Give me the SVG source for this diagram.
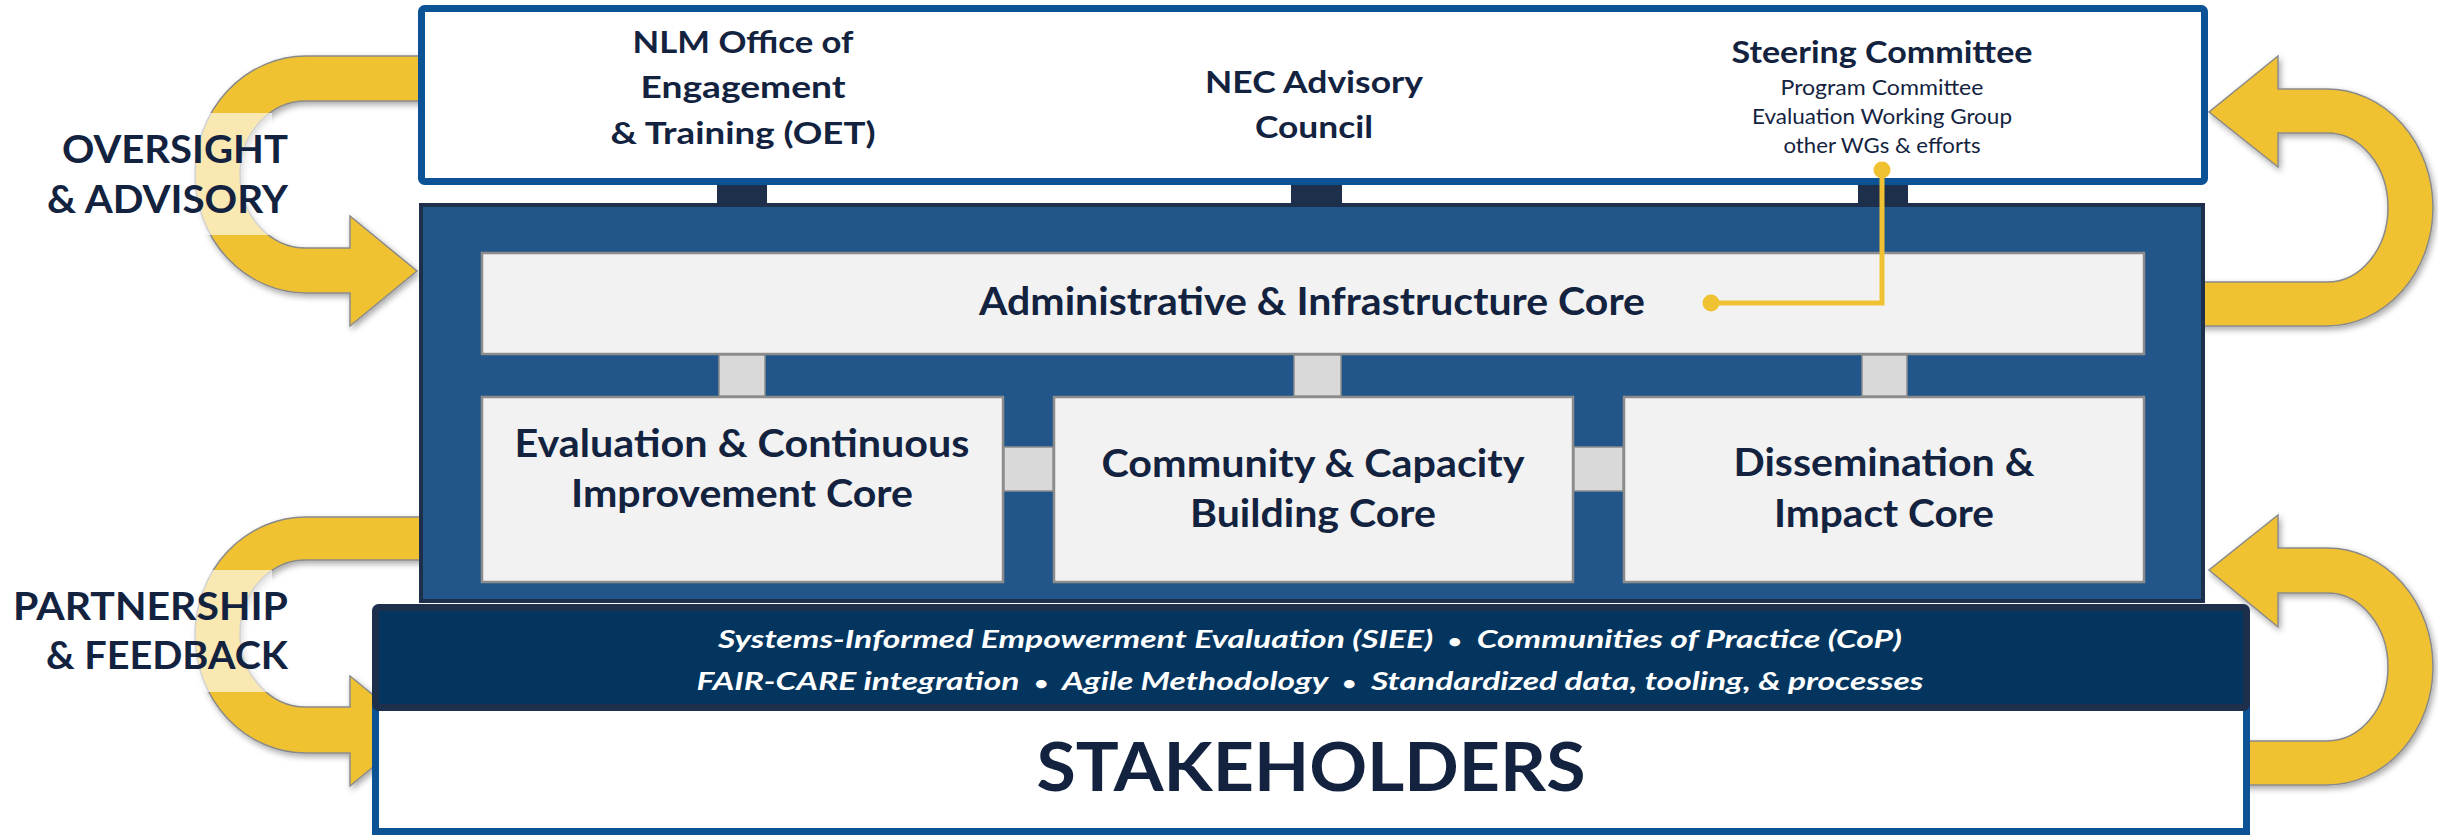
<svg xmlns="http://www.w3.org/2000/svg" width="2438" height="835" viewBox="0 0 2438 835">
<defs>
<filter id="sh" x="-20%" y="-20%" width="140%" height="140%">
<feDropShadow dx="2" dy="3" stdDeviation="3" flood-color="#000" flood-opacity="0.35"/>
</filter>
<style>
.arrow{fill:#f0c232;stroke:#8a8a8a;stroke-width:1.5;filter:url(#sh)}
.hl{fill:#fff;opacity:0.62}
.side{font-family:Lato,"Open Sans",sans-serif;font-weight:700;font-size:39px;fill:#13233f}
.top{font-family:Lato,"Open Sans",sans-serif;font-weight:700;font-size:31px;fill:#13233f;text-anchor:middle}
.topsm{font-family:Lato,"Open Sans",sans-serif;font-weight:400;font-size:22px;fill:#13233f;text-anchor:middle}
.core{fill:#f2f2f2;stroke:#8c8c8c;stroke-width:2.5}
.coret{font-family:Lato,"Open Sans",sans-serif;font-weight:700;font-size:39px;fill:#13233f;text-anchor:middle}
.stub{fill:#1d2f4a}
.link{fill:#d9d9d9;stroke:#8c8c8c;stroke-width:1.5}
.meth{font-family:Lato,"Open Sans",sans-serif;font-weight:700;font-style:italic;font-size:25px;fill:#ffffff;text-anchor:middle;white-space:pre}
.bul{font-size:18px;font-style:normal}
.gold{stroke:#f0c232;stroke-width:5;fill:none}
</style>
</defs>

<g id="arrows">
<path class="arrow" d="M 430 56 L 306 56 A 111 118.5 0 0 0 306 293 L 350 293 L 350 326 L 417 271 L 350 216 L 350 248 L 306 248 A 66 73.5 0 0 1 306 101 L 430 101 Z"/>
<path class="arrow" d="M 430 517 L 306 517 A 111 118 0 0 0 306 753 L 350 753 L 350 786 L 417 731 L 350 676 L 350 707 L 306 707 A 66 73.5 0 0 1 306 560 L 430 560 Z"/>
<path class="arrow" d="M 2195 326 L 2327 326 A 106 118.5 0 0 0 2327 89 L 2278 89 L 2278 56 L 2209 112 L 2278 167 L 2278 133 L 2327 133 A 61 74.5 0 0 1 2327 282 L 2195 282 Z"/>
<path class="arrow" d="M 2240 785 L 2327 785 A 106 118.5 0 0 0 2327 548 L 2278 548 L 2278 515 L 2209 570 L 2278 627 L 2278 593 L 2327 593 A 61 74 0 0 1 2327 741 L 2240 741 Z"/>
</g>

<g id="oversight-label">
<rect class="hl" x="180" y="113" width="92" height="122"/>
<text class="side" x="288" y="163" text-anchor="end" textLength="226" lengthAdjust="spacingAndGlyphs">OVERSIGHT</text>
<text class="side" x="288" y="213" text-anchor="end" textLength="241" lengthAdjust="spacingAndGlyphs">&amp; ADVISORY</text>
</g>
<g id="partnership-label">
<rect class="hl" x="180" y="570" width="92" height="122"/>
<text class="side" x="288" y="620" text-anchor="end" textLength="275" lengthAdjust="spacingAndGlyphs">PARTNERSHIP</text>
<text class="side" x="288" y="669" text-anchor="end" textLength="242" lengthAdjust="spacingAndGlyphs">&amp; FEEDBACK</text>
</g>

<g id="oversight-box">
<rect x="421.5" y="8.5" width="1783" height="173" rx="3" fill="#ffffff" stroke="#0b5394" stroke-width="7"/>
</g>
<g id="nlm-oet">
<text class="top" x="743" y="53" textLength="221" lengthAdjust="spacingAndGlyphs">NLM Office of</text>
<text class="top" x="743" y="98" textLength="205" lengthAdjust="spacingAndGlyphs">Engagement</text>
<text class="top" x="743" y="144" textLength="265" lengthAdjust="spacingAndGlyphs">&amp; Training (OET)</text>
</g>
<g id="nec-council">
<text class="top" x="1314" y="93" textLength="218" lengthAdjust="spacingAndGlyphs">NEC Advisory</text>
<text class="top" x="1314" y="138" textLength="118" lengthAdjust="spacingAndGlyphs">Council</text>
</g>
<g id="steering">
<text class="top" x="1882" y="63" textLength="301" lengthAdjust="spacingAndGlyphs">Steering Committee</text>
<text class="topsm" x="1882" y="95" textLength="203" lengthAdjust="spacingAndGlyphs">Program Committee</text>
<text class="topsm" x="1882" y="124" textLength="260" lengthAdjust="spacingAndGlyphs">Evaluation Working Group</text>
<text class="topsm" x="1882" y="153" textLength="197" lengthAdjust="spacingAndGlyphs">other WGs &amp; efforts</text>
</g>

<g id="stakeholders">
<rect x="375.5" y="700" width="1871" height="131.5" fill="#ffffff" stroke="#0b5394" stroke-width="7"/>
<text x="1311" y="791" text-anchor="middle" font-family="Lato, 'Open Sans', sans-serif" font-weight="700" font-size="67" fill="#13233f" textLength="549" lengthAdjust="spacingAndGlyphs">STAKEHOLDERS</text>
</g>

<g id="program-panel">
<rect x="421" y="205" width="1782" height="396" fill="#22568a" stroke="#1d2f4a" stroke-width="4"/>
</g>

<g id="methods">
<rect x="375.5" y="607.5" width="1871" height="100" rx="3" fill="#03355f" stroke="#1d2f4a" stroke-width="7"/>
<text class="meth" x="1310" y="648" textLength="1184" lengthAdjust="spacingAndGlyphs">Systems-Informed Empowerment Evaluation (SIEE)  <tspan class="bul">•</tspan>  Communities of Practice (CoP)</text>
<text class="meth" x="1310" y="690" textLength="1227" lengthAdjust="spacingAndGlyphs">FAIR-CARE integration  <tspan class="bul">•</tspan>  Agile Methodology  <tspan class="bul">•</tspan>  Standardized data, tooling, &amp; processes</text>
</g>

<g id="admin-core">
<rect class="core" x="482" y="253" width="1662" height="101"/>
<text class="coret" x="1312" y="315" textLength="666" lengthAdjust="spacingAndGlyphs">Administrative &amp; Infrastructure Core</text>
</g>
<g id="eval-core">
<rect class="core" x="482" y="397" width="521" height="185"/>
<text class="coret" x="742" y="457" textLength="455" lengthAdjust="spacingAndGlyphs">Evaluation &amp; Continuous</text>
<text class="coret" x="742" y="507" textLength="342" lengthAdjust="spacingAndGlyphs">Improvement Core</text>
</g>
<g id="community-core">
<rect class="core" x="1054" y="397" width="519" height="185"/>
<text class="coret" x="1313" y="477" textLength="423" lengthAdjust="spacingAndGlyphs">Community &amp; Capacity</text>
<text class="coret" x="1313" y="527" textLength="246" lengthAdjust="spacingAndGlyphs">Building Core</text>
</g>
<g id="dissemination-core">
<rect class="core" x="1624" y="397" width="520" height="185"/>
<text class="coret" x="1884" y="476" textLength="301" lengthAdjust="spacingAndGlyphs">Dissemination &amp;</text>
<text class="coret" x="1884" y="527" textLength="220" lengthAdjust="spacingAndGlyphs">Impact Core</text>
</g>

<g id="connectors">
<rect class="stub" x="717" y="185" width="50" height="19"/>
<rect class="stub" x="1291" y="185" width="51" height="19"/>
<rect class="stub" x="1858" y="185" width="50" height="19"/>
<rect class="link" x="719" y="355" width="46" height="41"/>
<rect class="link" x="1294" y="355" width="47" height="41"/>
<rect class="link" x="1862" y="355" width="45" height="41"/>
<rect class="link" x="1004" y="447" width="49" height="44"/>
<rect class="link" x="1574" y="447" width="49" height="44"/>
<polyline class="gold" points="1882,170 1882,303 1711,303"/>
<circle cx="1882" cy="170" r="8.5" fill="#f0c232"/>
<circle cx="1711" cy="303" r="8.5" fill="#f0c232"/>
</g>
</svg>
